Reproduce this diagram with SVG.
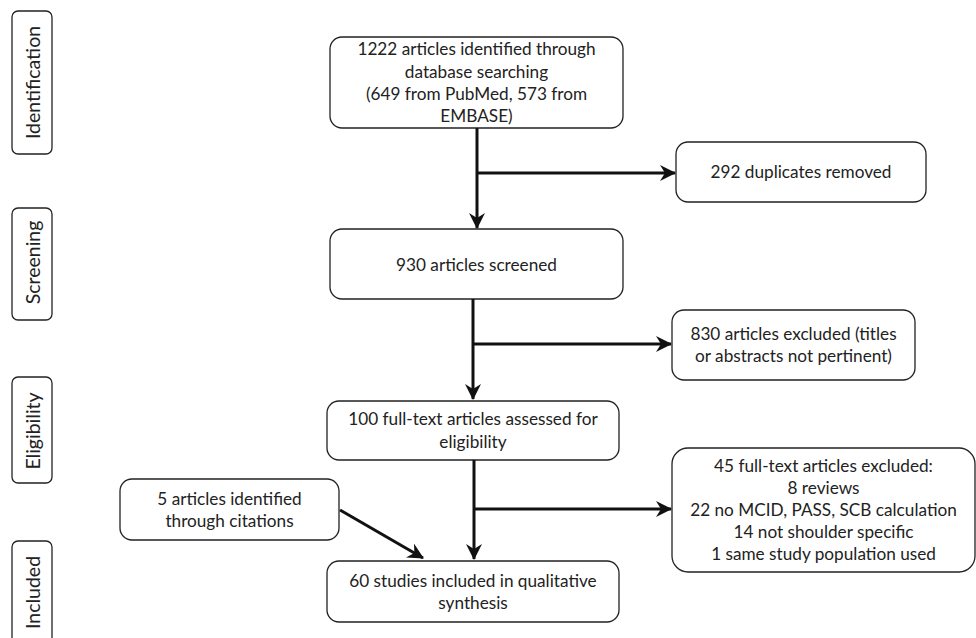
<svg xmlns="http://www.w3.org/2000/svg" width="976" height="638" viewBox="0 0 976 638">
<defs>
<marker id="ah" markerUnits="userSpaceOnUse" markerWidth="16" markerHeight="16" viewBox="0 0 16 16" refX="15" refY="8" orient="auto">
<path d="M0,0 L16,8 L0,16 L5,8 Z" fill="#111"/>
</marker>
<style>
.box{fill:#fff;stroke:#222;stroke-width:1.3}
.t{font-family:Lato,"Open Sans",sans-serif;font-size:17.2px;fill:#222;text-anchor:middle}
.s{font-family:Lato,"Open Sans",sans-serif;font-size:19.5px;fill:#222;text-anchor:middle}
.c{stroke:#111;stroke-width:3;fill:none}
</style>
</defs>
<rect width="976" height="638" fill="#fff"/>
<g id="stage-identification"><rect class="box" x="12" y="11" width="40" height="143" rx="6"/><text class="s" transform="translate(40,82.5) rotate(-90)">Identification</text></g>
<g id="stage-screening"><rect class="box" x="12" y="208" width="40" height="112" rx="6"/><text class="s" transform="translate(40,262.5) rotate(-90)">Screening</text></g>
<g id="stage-eligibility"><rect class="box" x="12" y="377" width="40" height="106" rx="6"/><text class="s" transform="translate(40,431) rotate(-90)">Eligibility</text></g>
<g id="stage-included"><rect class="box" x="12" y="541" width="40" height="110" rx="6"/><text class="s" transform="translate(40,592.5) rotate(-90)">Included</text></g>

<g id="n-identified"><rect class="box" x="330" y="37" width="293" height="91" rx="12"/>
<text class="t" x="476.5" y="55">1222 articles identified through</text>
<text class="t" x="476.5" y="78">database searching</text>
<text class="t" x="476.5" y="100">(649 from PubMed, 573 from</text>
<text class="t" x="476.5" y="122">EMBASE)</text></g>
<g id="n-duplicates"><rect class="box" x="676" y="142" width="250" height="60" rx="12"/><text class="t" x="801" y="178">292 duplicates removed</text></g>
<g id="n-screened"><rect class="box" x="330" y="229" width="293" height="70" rx="12"/><text class="t" x="476.5" y="271">930 articles screened</text></g>
<g id="n-excluded1"><rect class="box" x="672" y="310" width="243" height="70" rx="12"/>
<text class="t" x="793.5" y="340">830 articles excluded (titles</text>
<text class="t" x="793.5" y="362">or abstracts not pertinent)</text></g>
<g id="n-fulltext"><rect class="box" x="327" y="401" width="292" height="59" rx="12"/>
<text class="t" x="473" y="425">100 full-text articles assessed for</text>
<text class="t" x="473" y="448">eligibility</text></g>
<g id="n-excluded2"><rect class="box" x="672" y="448" width="303" height="124" rx="16"/>
<text class="t" x="823.5" y="472">45 full-text articles excluded:</text>
<text class="t" x="823.5" y="494">8 reviews</text>
<text class="t" x="823.5" y="516">22 no MCID, PASS, SCB calculation</text>
<text class="t" x="823.5" y="538">14 not shoulder specific</text>
<text class="t" x="823.5" y="560">1 same study population used</text></g>
<g id="n-citations"><rect class="box" x="120" y="479" width="219" height="61" rx="12"/>
<text class="t" x="229.5" y="505">5 articles identified</text>
<text class="t" x="229.5" y="527">through citations</text></g>
<g id="n-included"><rect class="box" x="327" y="561" width="292" height="61" rx="12"/>
<text class="t" x="473" y="587">60 studies included in qualitative</text>
<text class="t" x="473" y="609">synthesis</text></g>

<g id="connectors">
<path class="c" d="M477,128 V228" marker-end="url(#ah)"/>
<path class="c" d="M477,173 H675" marker-end="url(#ah)"/>
<path class="c" d="M473,299 V399" marker-end="url(#ah)"/>
<path class="c" d="M473,344 H671" marker-end="url(#ah)"/>
<path class="c" d="M474,460 V559" marker-end="url(#ah)"/>
<path class="c" d="M474,509 H671" marker-end="url(#ah)"/>
<path class="c" d="M340,510 L423,558" marker-end="url(#ah)"/>
</g>
</svg>
